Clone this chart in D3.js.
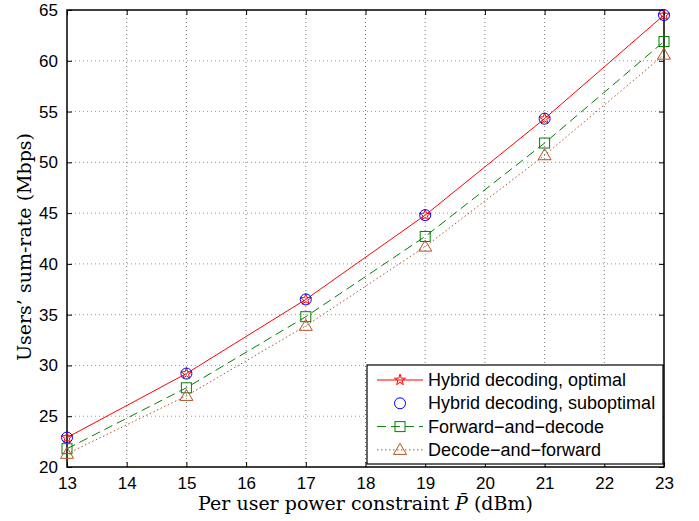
<!DOCTYPE html>
<html>
<head>
<meta charset="utf-8">
<script src="https://cdn.jsdelivr.net/npm/d3@7"></script>
<style>
  body { margin: 0; background: #fff; }
  text { fill: #000; }
</style>
</head>
<body>
<script>
const powers = [13, 15, 17, 19, 21, 23];
const hybridOptimal = [22.9, 29.2, 36.5, 44.8, 54.3, 64.5];
const hybridSuboptimal = [22.9, 29.2, 36.5, 44.8, 54.3, 64.5];
const forwardDecode = [21.8, 27.8, 34.8, 42.7, 51.9, 61.9];
const decodeForward = [21.3, 27.0, 33.9, 41.7, 50.7, 60.6];
const xTicks = [13, 14, 15, 16, 17, 18, 19, 20, 21, 22, 23];
const yTicks = [20, 25, 30, 35, 40, 45, 50, 55, 60, 65];

const width = 699, height = 521;
const margin = { left: 67, right: 35, top: 10, bottom: 54 };
const innerW = width - margin.left - margin.right;
const innerH = height - margin.top - margin.bottom;

const x = d3.scaleLinear().domain([13, 23]).range([0, innerW]);
const y = d3.scaleLinear().domain([20, 65]).range([innerH, 0]);

const svg = d3.select("body").append("svg")
  .attr("width", width).attr("height", height);

const g = svg.append("g")
  .attr("transform", `translate(${margin.left},${margin.top})`);

// grid
g.append("g").selectAll("line").data(xTicks.slice(1, -1)).join("line")
  .attr("x1", d => x(d)).attr("x2", d => x(d))
  .attr("y1", 0).attr("y2", innerH)
  .attr("stroke", "#777").attr("stroke-width", 1)
  .attr("stroke-dasharray", "1,3");
g.append("g").selectAll("line").data(yTicks.slice(1, -1)).join("line")
  .attr("y1", d => y(d)).attr("y2", d => y(d))
  .attr("x1", 0).attr("x2", innerW)
  .attr("stroke", "#999").attr("stroke-width", 1)
  .attr("stroke-dasharray", "1,3");

// axes (ticks inward, box on all sides)
const tickLen = 5;
const fontTick = "Liberation Sans, Arial, sans-serif";
g.append("g").attr("transform", `translate(0,${innerH})`)
  .call(d3.axisBottom(x).tickValues(xTicks).tickSizeInner(-tickLen).tickSizeOuter(0).tickPadding(10))
  .call(a => a.select(".domain").remove())
  .selectAll("text").attr("font-size", 17).attr("font-family", fontTick);
g.append("g")
  .call(d3.axisTop(x).tickValues(xTicks).tickSizeInner(-tickLen).tickSizeOuter(0).tickFormat(""))
  .call(a => a.select(".domain").remove());
g.append("g")
  .call(d3.axisLeft(y).tickValues(yTicks).tickSizeInner(-tickLen).tickSizeOuter(0).tickPadding(9))
  .call(a => a.select(".domain").remove())
  .selectAll("text").attr("font-size", 17).attr("font-family", fontTick);
g.append("g").attr("transform", `translate(${innerW},0)`)
  .call(d3.axisRight(y).tickValues(yTicks).tickSizeInner(-tickLen).tickSizeOuter(0).tickFormat(""))
  .call(a => a.select(".domain").remove());

g.append("rect").attr("width", innerW).attr("height", innerH)
  .attr("fill", "none").attr("stroke", "#000").attr("stroke-width", 1.5);

// series
const series = [
  { name: "Hybrid decoding, optimal", values: hybridOptimal, color: "#ff0000", dash: null, line: true, marker: "star" },
  { name: "Hybrid decoding, suboptimal", values: hybridSuboptimal, color: "#0000ff", dash: null, line: false, marker: "circle" },
  { name: "Forward\u2212and\u2212decode", values: forwardDecode, color: "#008000", dash: "9,5", line: true, marker: "square" },
  { name: "Decode\u2212and\u2212forward", values: decodeForward, color: "#b5531f", dash: "1.5,2.5", line: true, marker: "triangle" }
];

const line = d3.line().x(d => x(d[0])).y(d => y(d[1]));

function drawMarker(sel, type, color) {
  if (type === "star") {
    sel.append("path").attr("d", d3.symbol(d3.symbolStar, 38)())
      .attr("fill", "none").attr("stroke", color).attr("stroke-width", 1);
  } else if (type === "circle") {
    sel.append("circle").attr("r", 5.5)
      .attr("fill", "none").attr("stroke", color).attr("stroke-width", 1);
  } else if (type === "square") {
    sel.append("rect").attr("x", -5).attr("y", -5).attr("width", 10).attr("height", 10)
      .attr("fill", "none").attr("stroke", color).attr("stroke-width", 1);
  } else if (type === "triangle") {
    sel.append("path").attr("d", "M0,-6.5L6.5,4.5L-6.5,4.5Z")
      .attr("fill", "none").attr("stroke", color).attr("stroke-width", 1);
  }
}

series.forEach(s => {
  const pts = powers.map((p, i) => [p, s.values[i]]);
  if (s.line) {
    g.append("path").datum(pts).attr("d", line)
      .attr("fill", "none").attr("stroke", s.color).attr("stroke-width", 1)
      .attr("stroke-dasharray", s.dash);
  }
  g.append("g").selectAll("g").data(pts).join("g")
    .attr("transform", d => `translate(${x(d[0])},${y(d[1])})`)
    .each(function () { drawMarker(d3.select(this), s.marker, s.color); });
});

// legend
const lg = svg.append("g").attr("transform", "translate(367,365)");
lg.append("rect").attr("width", 296).attr("height", 99)
  .attr("fill", "#fff").attr("stroke", "#000").attr("stroke-width", 1.2);
series.forEach((s, i) => {
  const row = lg.append("g").attr("transform", `translate(0,${15 + i * 23.3})`);
  if (s.line) {
    row.append("line").attr("x1", 10).attr("x2", 56)
      .attr("stroke", s.color).attr("stroke-width", 1).attr("stroke-dasharray", s.dash);
  }
  const m = row.append("g").attr("transform", "translate(33,0)");
  drawMarker(m, s.marker, s.color);
  row.append("text").attr("x", 61).attr("y", 6)
    .attr("font-size", 18).attr("font-family", fontTick).text(s.name);
});

// axis labels
const serif = "'DejaVu Serif', 'Liberation Serif', serif";
const xl = svg.append("text")
  .attr("x", margin.left + innerW / 2).attr("y", 510)
  .attr("text-anchor", "middle").attr("font-size", 19).attr("font-family", serif);
xl.append("tspan").text("Per user power constraint ");
xl.append("tspan").attr("font-style", "italic").text("P\u0304");
xl.append("tspan").text(" (dBm)");

svg.append("text")
  .attr("transform", `translate(31,247) rotate(-90)`)
  .attr("text-anchor", "middle").attr("font-size", 19).attr("font-family", serif)
  .text("Users\u2019 sum-rate (Mbps)");
</script>
</body>
</html>
